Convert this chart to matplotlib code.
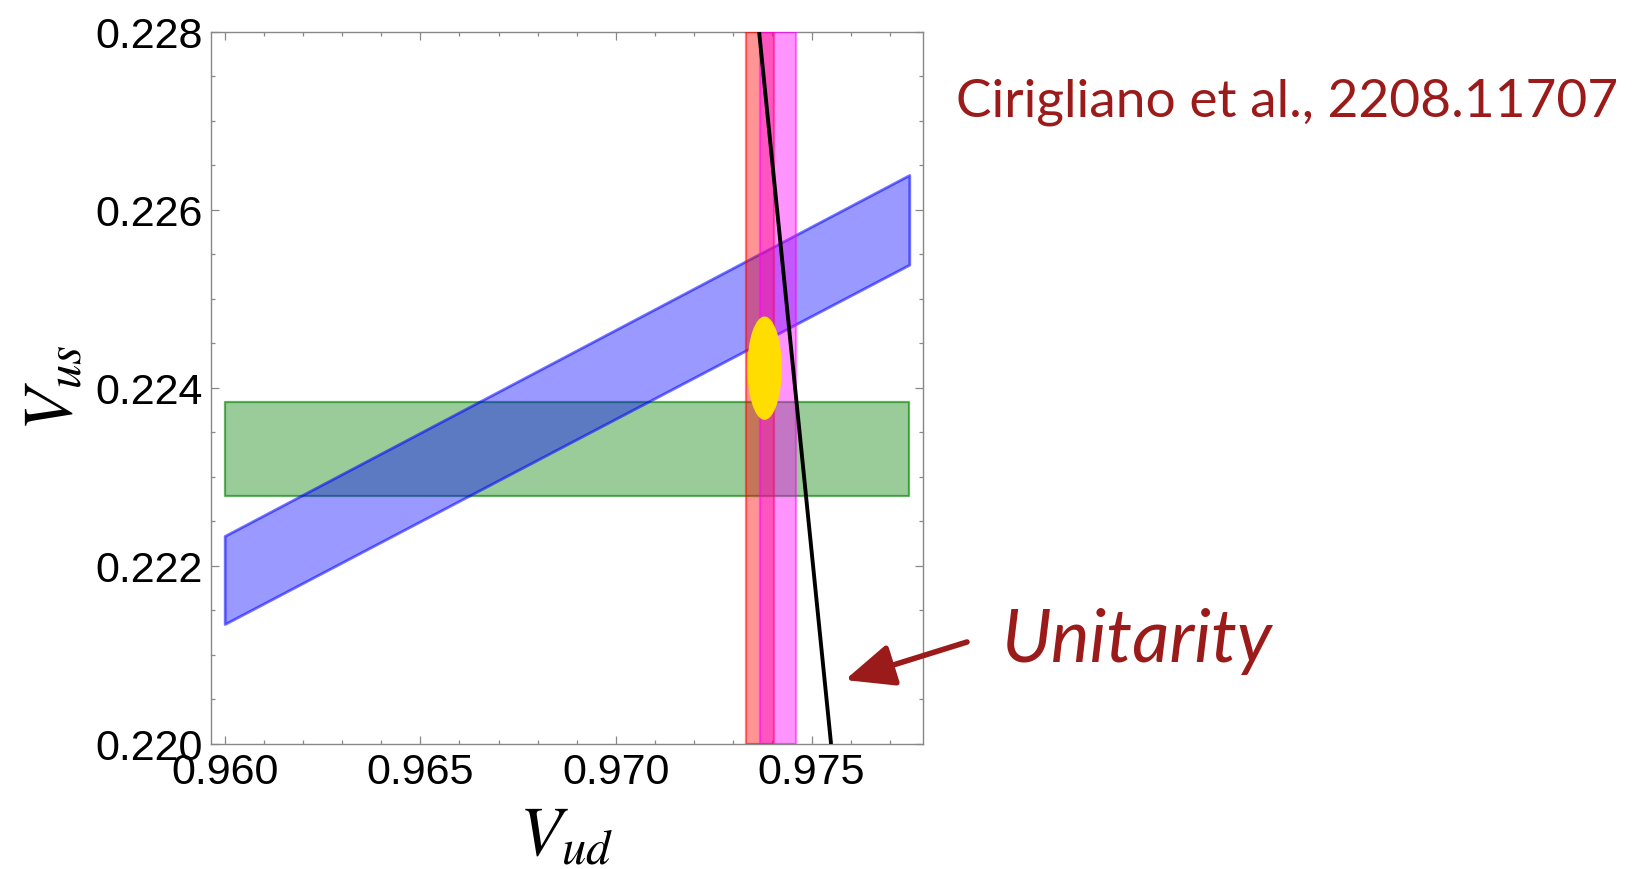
import matplotlib
matplotlib.use("Agg")
import matplotlib.pyplot as plt
import numpy as np
from matplotlib.patches import Ellipse
from matplotlib.ticker import MultipleLocator, FormatStrFormatter

# ---- data ----
band_vud = np.array([0.960, 0.9775])          # x extent of the Vus / ratio bands
green_vus = [0.22278, 0.22384]                 # K_l3 : Vus band
blue_ratio = [0.23057, 0.23160]                # K_l2/pi_l2 : Vus/Vud band
red_vud = [0.97332, 0.97403]                   # superallowed beta decays : Vud band
magenta_vud = [0.97368, 0.97460]               # neutron decay : Vud band
fit_center = (0.97380, 0.22422)                # yellow fit ellipse
fit_size = (0.00088, 0.00116)                  # full width / height
unit_vus = [0.220, 0.228]                      # unitarity line endpoints
unit_vud = [0.97550, 0.97366]
xticks = [0.960, 0.965, 0.970, 0.975]
yticks = [0.220, 0.222, 0.224, 0.226, 0.228]

DARKRED = '#9b1a1a'
W, H = 1643, 870
fig = plt.figure(figsize=(W / 100, H / 100), dpi=100)
ax = fig.add_axes([211 / W, 1 - 745 / H, 712 / W, 712.5 / H])

# green horizontal band
ax.fill_between(band_vud, green_vus[0], green_vus[1],
                facecolor=(0, 0.5, 0, 0.40), edgecolor=(0, 0.5, 0, 0.6), lw=1.6, zorder=1)
# blue ratio band
ax.fill_between(band_vud, blue_ratio[0] * band_vud, blue_ratio[1] * band_vud,
                facecolor=(0, 0, 1, 0.40), edgecolor=(0, 0, 1, 0.55), lw=2.0, zorder=2)
# red and magenta vertical bands
ax.axvspan(red_vud[0], red_vud[1], facecolor=(1, 0, 0, 0.42),
           edgecolor=(1, 0, 0, 0.5), lw=1.6, zorder=3)
ax.axvspan(magenta_vud[0], magenta_vud[1], facecolor=(1, 0, 1, 0.42),
           edgecolor=(1, 0, 1, 0.5), lw=1.6, zorder=4)
# fit ellipse
ax.add_patch(Ellipse(fit_center, fit_size[0], fit_size[1], facecolor='#ffdd00',
                     edgecolor='none', zorder=5))
# unitarity line
ax.plot(unit_vud, unit_vus, color='black', lw=2.8, zorder=6, solid_capstyle='butt')

ax.set_xlim(0.95965, 0.97785)
ax.set_ylim(0.220, 0.228)
ax.set_xticks(xticks)
ax.set_yticks(yticks)
ax.xaxis.set_major_formatter(FormatStrFormatter('%.3f'))
ax.yaxis.set_major_formatter(FormatStrFormatter('%.3f'))
ax.xaxis.set_minor_locator(MultipleLocator(0.001))
ax.yaxis.set_minor_locator(MultipleLocator(0.0005))
for s in ax.spines.values():
    s.set_color('#888888')
    s.set_linewidth(1.0)
ax.tick_params(which='both', direction='in', top=True, right=True, color='#888888', width=0.9)
ax.tick_params(which='major', length=6, pad=6)
ax.tick_params(which='minor', length=3)
for lab in ax.get_xticklabels() + ax.get_yticklabels():
    lab.set_fontfamily('Liberation Sans')
    lab.set_fontsize(31)

plt.rcParams['mathtext.fontset'] = 'stix'
fig.text(53 / W, 1 - 388 / H, r'$V_{us}$', rotation=90, ha='center', va='center', fontsize=50)
fig.text(566 / W, 1 - 836 / H, r'$V_{ud}$', ha='center', va='center', fontsize=50)

fig.text(956 / W, 1 - 117 / H, 'Cirigliano et al., 2208.11707', color=DARKRED,
         fontfamily='Lato', fontsize=38.3, ha='left', va='baseline')
fig.text(1001 / W, 1 - 662 / H, 'Unitarity', color=DARKRED, fontfamily='Lato',
         fontstyle='italic', fontsize=52.5, ha='left', va='baseline')
ax.annotate('', xy=(845 / W, 1 - 681 / H), xytext=(967 / W, 1 - 643 / H),
            xycoords='figure fraction', textcoords='figure fraction',
            arrowprops=dict(arrowstyle='-|>,head_length=1.5,head_width=0.65', lw=4,
                            color=DARKRED, shrinkA=0, shrinkB=0, mutation_scale=20))

fig.savefig('out.png', dpi=100)
